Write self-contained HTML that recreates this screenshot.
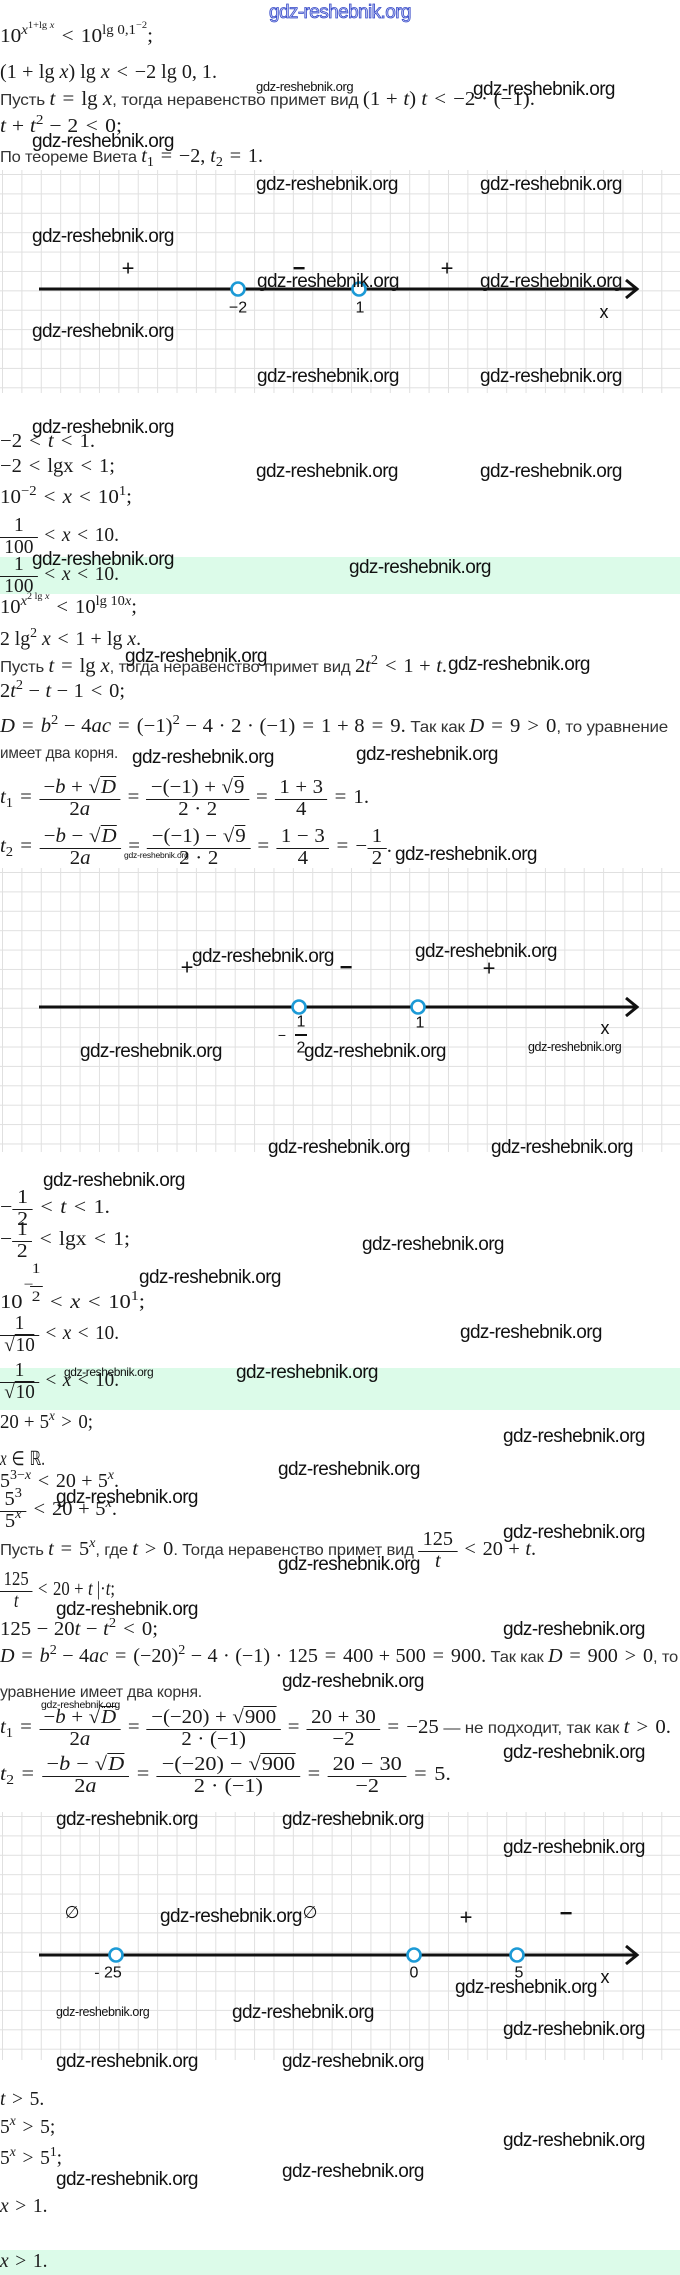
<!DOCTYPE html>
<html><head><meta charset="utf-8">
<style>
*{margin:0;padding:0;box-sizing:content-box}
body{width:680px;height:2275px;position:relative;background:#fff;overflow:hidden;font-family:"Liberation Serif",serif}
.g{position:absolute;left:0;width:680px;background-image:linear-gradient(to right,#e0e0e0 1px,transparent 1px),linear-gradient(to bottom,#e0e0e0 1px,transparent 1px);background-size:19.4px 19.4px;background-position:2px 4px}
.band{position:absolute;left:0;width:680px;background:#dcfbe9}
.l{position:absolute;left:0;white-space:nowrap;line-height:0;font-size:19.5px;color:#1a1a1a;transform-origin:0 0}
r{margin:0 .34em}
o{margin:0 .27em}
sup{font-size:.7em;position:relative;top:-.62em;vertical-align:baseline;line-height:0}
sub{font-size:.7em;position:relative;top:.28em;vertical-align:baseline;line-height:0}
.s{font-family:"Liberation Sans",sans-serif;font-size:16px;letter-spacing:-.2px;color:#333;font-style:normal}
.w{position:absolute;white-space:nowrap;line-height:0;font-family:"Liberation Sans",sans-serif;font-size:19px;letter-spacing:-.6px;color:#111}
.fr{display:inline-block;vertical-align:middle;height:0;text-align:center;line-height:0}
.fi{display:block;position:relative;top:-1.05em}
.nu,.de{display:block;line-height:1.05em;padding:0 .22em}
.de{border-top:1px solid #1a1a1a}
.sq{border-top:1px solid #1a1a1a;line-height:0;padding-left:1px}
.ex{display:inline-block;position:relative;width:17px;height:0;vertical-align:baseline;font-size:15px}
.ex>span{position:absolute;line-height:0;white-space:nowrap}
</style></head><body>

<div class="g" style="top:170px;height:223px"></div>
<div class="g" style="top:868px;height:284px"></div>
<div class="g" style="top:1812px;height:248px"></div>
<div class="band" style="top:557px;height:37px"></div>
<div class="band" style="top:1368px;height:42px"></div>
<div class="band" style="top:2250px;height:25px"></div>

<svg style="position:absolute;left:0;top:0" width="680" height="2275" xmlns="http://www.w3.org/2000/svg">
<g stroke="#111" stroke-width="3" fill="none">
<line x1="39" y1="289" x2="636" y2="289"/><polyline points="626,280 637,289 626,298"/>
<line x1="39" y1="1007" x2="636" y2="1007"/><polyline points="626,998 637,1007 626,1016"/>
<line x1="39" y1="1955" x2="636" y2="1955"/><polyline points="626,1946 637,1955 626,1964"/>
<line x1="295" y1="1035" x2="307" y2="1035" stroke-width="2"/>
</g>
<g stroke="#1c9ad6" stroke-width="2.6" fill="#fff">
<circle cx="238" cy="289" r="6.5"/><circle cx="359" cy="289" r="6.5"/>
<circle cx="299" cy="1007" r="6.5"/><circle cx="418" cy="1007" r="6.5"/>
<circle cx="116" cy="1955" r="6.5"/><circle cx="414" cy="1955" r="6.5"/><circle cx="517" cy="1955" r="6.5"/>
</g>
<g font-family="Liberation Sans, sans-serif" fill="#111" text-anchor="middle" dominant-baseline="central">
<text x="128" y="268" font-size="22">+</text><text x="299" y="268" font-size="22" font-weight="bold">−</text><text x="447" y="268" font-size="22">+</text>
<text x="238" y="308" font-size="16">−2</text><text x="360" y="308" font-size="16">1</text><text x="604" y="312" font-size="18">x</text>
<text x="187" y="967" font-size="22">+</text><text x="346" y="967" font-size="22" font-weight="bold">−</text><text x="489" y="968" font-size="22">+</text>
<text x="282" y="1035" font-size="14">−</text><text x="301" y="1022" font-size="16">1</text><text x="301" y="1048" font-size="16">2</text>
<text x="420" y="1023" font-size="16">1</text><text x="605" y="1028" font-size="18">x</text>
<text x="72" y="1913" font-size="17" font-family="DejaVu Sans, sans-serif">∅</text><text x="310" y="1913" font-size="17" font-family="DejaVu Sans, sans-serif">∅</text>
<text x="466" y="1917" font-size="22">+</text><text x="566" y="1913" font-size="22" font-weight="bold">−</text>
<text x="108" y="1973" font-size="16">- 25</text><text x="414" y="1973" font-size="16">0</text><text x="519" y="1973" font-size="16">5</text><text x="605" y="1977" font-size="18">x</text>
</g>
</svg>

<!-- Section 1 -->
<div class="w" style="left:269px;top:13px;color:#c9cff3;-webkit-text-stroke:.8px #3448c8">gdz-reshebnik.org</div>
<div class="l" style="top:37px;--w:153">10<sup><i>x</i><sup>1+lg <i>x</i></sup></sup><r>&lt;</r>10<sup>lg 0,1<sup>−2</sup></sup>;</div>
<div class="l" style="top:73px;--w:217">(1<o>+</o>lg <i>x</i>) lg <i>x</i><r>&lt;</r>−2 lg 0, 1.</div>
<div class="l" style="top:100px;--w:535"><span class="s">Пусть </span><i>t</i><r>=</r>lg <i>x</i><span class="s">, тогда неравенство примет вид </span>(1<o>+</o><i>t</i>) <i>t</i><r>&lt;</r>−2<o>·</o>(−1).</div>
<div class="l" style="top:127px;--w:122"><i>t</i><o>+</o><i>t</i><sup>2</sup><o>−</o>2<r>&lt;</r>0;</div>
<div class="l" style="top:157px;--w:263"><span class="s">По теореме Виета </span><i>t</i><sub>1</sub><r>=</r>−2, <i>t</i><sub>2</sub><r>=</r>1.</div>

<!-- Section 2 -->
<div class="l" style="top:442px;--w:95">−2<r>&lt;</r><i>t</i><r>&lt;</r>1.</div>
<div class="l" style="top:467px;--w:115">−2<r>&lt;</r>lgx<r>&lt;</r>1;</div>
<div class="l" style="top:498px;--w:132">10<sup>−2</sup><r>&lt;</r><i>x</i><r>&lt;</r>10<sup>1</sup>;</div>
<div class="l" style="top:536px;--w:119"><span class="fr"><span class="fi"><span class="nu">1</span><span class="de">100</span></span></span><r>&lt;</r><i>x</i><r>&lt;</r>10.</div>
<div class="l" style="top:575px;--w:119"><span class="fr"><span class="fi"><span class="nu">1</span><span class="de">100</span></span></span><r>&lt;</r><i>x</i><r>&lt;</r>10.</div>
<div class="l" style="top:608px;--w:137">10<sup><i>x</i><sup>2 lg <i>x</i></sup></sup><r>&lt;</r>10<sup>lg 10<i>x</i></sup>;</div>
<div class="l" style="top:640px;--w:141">2 lg<sup>2</sup> <i>x</i><r>&lt;</r>1<o>+</o>lg <i>x</i>.</div>
<div class="l" style="top:667px;--w:447"><span class="s">Пусть </span><i>t</i><r>=</r>lg <i>x</i><span class="s">, тогда неравенство примет вид </span>2<i>t</i><sup>2</sup><r>&lt;</r>1<o>+</o><i>t</i>.</div>
<div class="l" style="top:692px;--w:125">2<i>t</i><sup>2</sup><o>−</o><i>t</i><o>−</o>1<r>&lt;</r>0;</div>
<div class="l" style="top:727px;--w:668"><i>D</i><r>=</r><i>b</i><sup>2</sup><o>−</o>4<i>ac</i><r>=</r>(−1)<sup>2</sup><o>−</o>4<o>·</o>2<o>·</o>(−1)<r>=</r>1<o>+</o>8<r>=</r>9.<span class="s"> Так как </span><i>D</i><r>=</r>9<r>&gt;</r>0<span class="s">, то уравнение</span></div>
<div class="l" style="top:753px;--w:118"><span class="s">имеет два корня.</span></div>
<div class="l" style="top:798px;--w:369"><i>t</i><sub>1</sub><r>=</r><span class="fr"><span class="fi"><span class="nu">−<i>b</i><o>+</o>√<span class="sq"><i>D</i></span></span><span class="de">2<i>a</i></span></span></span><r>=</r><span class="fr"><span class="fi"><span class="nu">−(−1)<o>+</o>√<span class="sq">9</span></span><span class="de">2<o>·</o>2</span></span></span><r>=</r><span class="fr"><span class="fi"><span class="nu">1<o>+</o>3</span><span class="de">4</span></span></span><r>=</r>1.</div>
<div class="l" style="top:847px;--w:392"><i>t</i><sub>2</sub><r>=</r><span class="fr"><span class="fi"><span class="nu">−<i>b</i><o>−</o>√<span class="sq"><i>D</i></span></span><span class="de">2<i>a</i></span></span></span><r>=</r><span class="fr"><span class="fi"><span class="nu">−(−1)<o>−</o>√<span class="sq">9</span></span><span class="de">2<o>·</o>2</span></span></span><r>=</r><span class="fr"><span class="fi"><span class="nu">1<o>−</o>3</span><span class="de">4</span></span></span><r>=</r>−<span class="fr"><span class="fi"><span class="nu">1</span><span class="de">2</span></span></span>.</div>

<!-- Section 3 -->
<div class="l" style="top:1208px;--w:110">−<span class="fr"><span class="fi"><span class="nu">1</span><span class="de">2</span></span></span><r>&lt;</r><i>t</i><r>&lt;</r>1.</div>
<div class="l" style="top:1240px;--w:130">−<span class="fr"><span class="fi"><span class="nu">1</span><span class="de">2</span></span></span><r>&lt;</r>lgx<r>&lt;</r>1;</div>
<div class="l" style="top:1303px;--w:145">10<span class="ex"><span style="left:1px;top:-23px">−</span><span style="left:8px;top:-39px">1</span><span style="left:6px;top:-22px;width:11px;height:0;border-top:1px solid #1a1a1a"></span><span style="left:8px;top:-11px">2</span></span><r>&lt;</r><i>x</i><r>&lt;</r>10<sup>1</sup>;</div>
<div class="l" style="top:1334px;--w:119"><span class="fr"><span class="fi"><span class="nu">1</span><span class="de">√<span class="sq">10</span></span></span></span><r>&lt;</r><i>x</i><r>&lt;</r>10.</div>
<div class="l" style="top:1381px;--w:119"><span class="fr"><span class="fi"><span class="nu">1</span><span class="de">√<span class="sq">10</span></span></span></span><r>&lt;</r><i>x</i><r>&lt;</r>10.</div>
<div class="l" style="top:1423px;--w:93">20<o>+</o>5<sup><i>x</i></sup><r>&gt;</r>0;</div>
<div class="l" style="top:1460px;--w:45"><i>x</i><r>∈</r>ℝ.</div>
<div class="l" style="top:1482px;--w:119">5<sup>3−<i>x</i></sup><r>&lt;</r>20<o>+</o>5<sup><i>x</i></sup>.</div>
<div class="l" style="top:1510px;--w:117"><span class="fr"><span class="fi"><span class="nu">5<sup>3</sup></span><span class="de">5<sup><i>x</i></sup></span></span></span><r>&lt;</r>20<o>+</o>5<sup><i>x</i></sup>.</div>
<div class="l" style="top:1550px;--w:536"><span class="s">Пусть </span><i>t</i><r>=</r>5<sup><i>x</i></sup><span class="s">, где </span><i>t</i><r>&gt;</r>0<span class="s">. Тогда неравенство примет вид </span><span class="fr"><span class="fi"><span class="nu">125</span><span class="de"><i>t</i></span></span></span><r>&lt;</r>20<o>+</o><i>t</i>.</div>
<div class="l" style="top:1590px;--w:115"><span class="fr"><span class="fi"><span class="nu">125</span><span class="de"><i>t</i></span></span></span><r>&lt;</r>20<o>+</o><i>t</i> |·<i>t</i>;</div>
<div class="l" style="top:1630px;--w:158">125<o>−</o>20<i>t</i><o>−</o><i>t</i><sup>2</sup><r>&lt;</r>0;</div>
<div class="l" style="top:1657px;--w:678"><i>D</i><r>=</r><i>b</i><sup>2</sup><o>−</o>4<i>ac</i><r>=</r>(−20)<sup>2</sup><o>−</o>4<o>·</o>(−1)<o>·</o>125<r>=</r>400<o>+</o>500<r>=</r>900.<span class="s"> Так как </span><i>D</i><r>=</r>900<r>&gt;</r>0<span class="s">, то</span></div>
<div class="l" style="top:1692px;--w:202"><span class="s">уравнение имеет два корня.</span></div>
<div class="l" style="top:1728px;--w:671"><i>t</i><sub>1</sub><r>=</r><span class="fr"><span class="fi"><span class="nu">−<i>b</i><o>+</o>√<span class="sq"><i>D</i></span></span><span class="de">2<i>a</i></span></span></span><r>=</r><span class="fr"><span class="fi"><span class="nu">−(−20)<o>+</o>√<span class="sq">900</span></span><span class="de">2<o>·</o>(−1)</span></span></span><r>=</r><span class="fr"><span class="fi"><span class="nu">20<o>+</o>30</span><span class="de">−2</span></span></span><r>=</r>−25<span class="s"> — не подходит, так как </span><i>t</i><r>&gt;</r>0.</div>
<div class="l" style="top:1775px;--w:451"><i>t</i><sub>2</sub><r>=</r><span class="fr"><span class="fi"><span class="nu">−<i>b</i><o>−</o>√<span class="sq"><i>D</i></span></span><span class="de">2<i>a</i></span></span></span><r>=</r><span class="fr"><span class="fi"><span class="nu">−(−20)<o>−</o>√<span class="sq">900</span></span><span class="de">2<o>·</o>(−1)</span></span></span><r>=</r><span class="fr"><span class="fi"><span class="nu">20<o>−</o>30</span><span class="de">−2</span></span></span><r>=</r>5.</div>

<!-- Section 4 -->
<div class="l" style="top:2100px"><i>t</i><r>&gt;</r>5.</div>
<div class="l" style="top:2128px">5<sup><i>x</i></sup><r>&gt;</r>5;</div>
<div class="l" style="top:2159px">5<sup><i>x</i></sup><r>&gt;</r>5<sup>1</sup>;</div>
<div class="l" style="top:2207px"><i>x</i><r>&gt;</r>1.</div>
<div class="l" style="top:2262px"><i>x</i><r>&gt;</r>1.</div>

<!-- Watermarks -->
<div class="w" style="left:256px;top:87px;font-size:13px;letter-spacing:-.4px">gdz-reshebnik.org</div>
<div class="w" style="left:473px;top:90px">gdz-reshebnik.org</div>
<div class="w" style="left:32px;top:142px">gdz-reshebnik.org</div>
<div class="w" style="left:256px;top:185px">gdz-reshebnik.org</div>
<div class="w" style="left:480px;top:185px">gdz-reshebnik.org</div>
<div class="w" style="left:32px;top:237px">gdz-reshebnik.org</div>
<div class="w" style="left:257px;top:282px">gdz-reshebnik.org</div>
<div class="w" style="left:480px;top:282px">gdz-reshebnik.org</div>
<div class="w" style="left:32px;top:332px">gdz-reshebnik.org</div>
<div class="w" style="left:257px;top:377px">gdz-reshebnik.org</div>
<div class="w" style="left:480px;top:377px">gdz-reshebnik.org</div>
<div class="w" style="left:32px;top:428px">gdz-reshebnik.org</div>
<div class="w" style="left:256px;top:472px">gdz-reshebnik.org</div>
<div class="w" style="left:480px;top:472px">gdz-reshebnik.org</div>
<div class="w" style="left:32px;top:560px">gdz-reshebnik.org</div>
<div class="w" style="left:349px;top:568px">gdz-reshebnik.org</div>
<div class="w" style="left:125px;top:657px">gdz-reshebnik.org</div>
<div class="w" style="left:448px;top:665px">gdz-reshebnik.org</div>
<div class="w" style="left:132px;top:758px">gdz-reshebnik.org</div>
<div class="w" style="left:356px;top:755px">gdz-reshebnik.org</div>
<div class="w" style="left:124px;top:855px;font-size:8.5px;letter-spacing:-.2px">gdz-reshebnik.org</div>
<div class="w" style="left:395px;top:855px">gdz-reshebnik.org</div>
<div class="w" style="left:192px;top:957px">gdz-reshebnik.org</div>
<div class="w" style="left:415px;top:952px">gdz-reshebnik.org</div>
<div class="w" style="left:80px;top:1052px">gdz-reshebnik.org</div>
<div class="w" style="left:304px;top:1052px">gdz-reshebnik.org</div>
<div class="w" style="left:528px;top:1047px;font-size:12.5px;letter-spacing:-.4px">gdz-reshebnik.org</div>
<div class="w" style="left:268px;top:1148px">gdz-reshebnik.org</div>
<div class="w" style="left:491px;top:1148px">gdz-reshebnik.org</div>
<div class="w" style="left:43px;top:1181px">gdz-reshebnik.org</div>
<div class="w" style="left:362px;top:1245px">gdz-reshebnik.org</div>
<div class="w" style="left:139px;top:1278px">gdz-reshebnik.org</div>
<div class="w" style="left:460px;top:1333px">gdz-reshebnik.org</div>
<div class="w" style="left:64px;top:1372px;font-size:12px;letter-spacing:-.4px">gdz-reshebnik.org</div>
<div class="w" style="left:236px;top:1373px">gdz-reshebnik.org</div>
<div class="w" style="left:503px;top:1437px">gdz-reshebnik.org</div>
<div class="w" style="left:278px;top:1470px">gdz-reshebnik.org</div>
<div class="w" style="left:56px;top:1498px">gdz-reshebnik.org</div>
<div class="w" style="left:503px;top:1533px">gdz-reshebnik.org</div>
<div class="w" style="left:278px;top:1565px">gdz-reshebnik.org</div>
<div class="w" style="left:56px;top:1610px">gdz-reshebnik.org</div>
<div class="w" style="left:503px;top:1630px">gdz-reshebnik.org</div>
<div class="w" style="left:282px;top:1682px">gdz-reshebnik.org</div>
<div class="w" style="left:41px;top:1705px;font-size:10.5px;letter-spacing:-.3px">gdz-reshebnik.org</div>
<div class="w" style="left:503px;top:1753px">gdz-reshebnik.org</div>
<div class="w" style="left:56px;top:1820px">gdz-reshebnik.org</div>
<div class="w" style="left:282px;top:1820px">gdz-reshebnik.org</div>
<div class="w" style="left:503px;top:1848px">gdz-reshebnik.org</div>
<div class="w" style="left:160px;top:1917px">gdz-reshebnik.org</div>
<div class="w" style="left:455px;top:1988px">gdz-reshebnik.org</div>
<div class="w" style="left:56px;top:2012px;font-size:12.5px;letter-spacing:-.4px">gdz-reshebnik.org</div>
<div class="w" style="left:232px;top:2013px">gdz-reshebnik.org</div>
<div class="w" style="left:503px;top:2030px">gdz-reshebnik.org</div>
<div class="w" style="left:56px;top:2062px">gdz-reshebnik.org</div>
<div class="w" style="left:282px;top:2062px">gdz-reshebnik.org</div>
<div class="w" style="left:503px;top:2141px">gdz-reshebnik.org</div>
<div class="w" style="left:282px;top:2172px">gdz-reshebnik.org</div>
<div class="w" style="left:56px;top:2180px">gdz-reshebnik.org</div>

<script>
(function(){
function fit(){
  var els=document.querySelectorAll('.l');
  for(var i=0;i<els.length;i++){
    var e=els[i];
    var t=parseFloat(getComputedStyle(e).getPropertyValue('--w'));
    if(!t) continue;
    e.style.transform='none';
    var w=e.getBoundingClientRect().width;
    if(w>0){var s=t/w; if(s>0.65&&s<1.6){e.style.transform='scaleX('+s.toFixed(4)+')';}}
  }
}
fit();
if(document.fonts&&document.fonts.ready){document.fonts.ready.then(fit);}
})();
</script>
</body></html>
